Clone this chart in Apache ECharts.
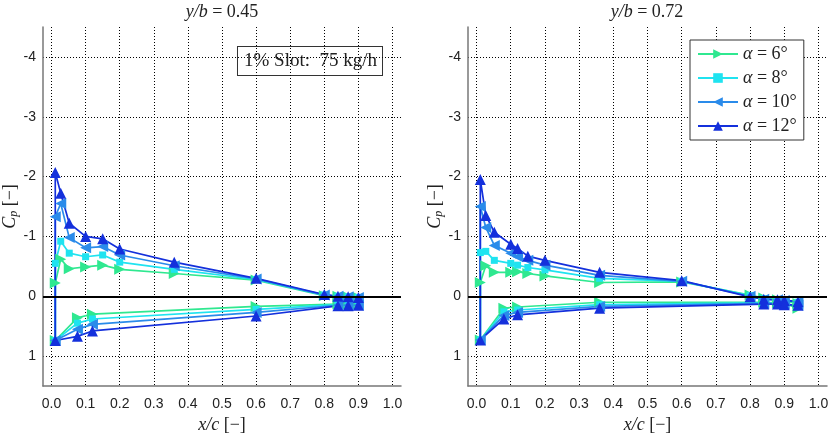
<!DOCTYPE html>
<html>
<head>
<meta charset="utf-8">
<script src="https://cdn.jsdelivr.net/npm/echarts@6/dist/echarts.min.js"></script>
<style>
  html, body { margin: 0; padding: 0; background: #fff; }
  #chart { width: 832px; height: 442px; }
</style>
</head>
<body>
<div id="chart"></div>
<script>
// 数据 (x/c, Cp) — 上表面从前缘到后缘, 下表面从前缘到后缘
const alphaNames = ['α = 6°', 'α = 8°', 'α = 10°', 'α = 12°']
const xTicks = [0, 0.1, 0.2, 0.3, 0.4, 0.5, 0.6, 0.7, 0.8, 0.9, 1.0]
const yTicks = [-4, -3, -2, -1, 0, 1]

// y/b = 0.45
const xUpper45 = [0.011, 0.027, 0.052, 0.1, 0.15, 0.2, 0.36, 0.6, 0.8, 0.84, 0.87, 0.9]
const xLower45 = [0.011, 0.076, 0.12, 0.6, 0.84, 0.87, 0.9]
const upper45_a6 = [-0.22, -0.62, -0.46, -0.49, -0.52, -0.45, -0.38, -0.27, -0.01, 0.0, 0.01, 0.02]
const upper45_a8 = [-0.55, -0.92, -0.72, -0.66, -0.69, -0.57, -0.45, -0.28, -0.02, 0.0, 0.01, 0.02]
const upper45_a10 = [-1.33, -1.55, -0.98, -0.81, -0.83, -0.69, -0.51, -0.29, -0.02, 0.0, 0.01, 0.02]
const upper45_a12 = [-2.07, -1.72, -1.22, -1.0, -0.96, -0.79, -0.57, -0.30, -0.03, 0.0, 0.01, 0.02]
const lower45_a6 = [0.74, 0.36, 0.30, 0.17, 0.13, 0.13, 0.13]
const lower45_a8 = [0.74, 0.45, 0.38, 0.22, 0.14, 0.14, 0.14]
const lower45_a10 = [0.74, 0.55, 0.47, 0.27, 0.15, 0.15, 0.15]
const lower45_a12 = [0.74, 0.67, 0.58, 0.33, 0.16, 0.16, 0.15]

// y/b = 0.72
const xUpper72 = [0.011, 0.027, 0.052, 0.1, 0.12, 0.15, 0.2, 0.36, 0.6, 0.8, 0.84, 0.88, 0.9, 0.94]
const xLower72 = [0.011, 0.08, 0.12, 0.36, 0.84, 0.88, 0.9, 0.94]
const upper72_a6 = [-0.23, -0.51, -0.40, -0.40, -0.41, -0.38, -0.34, -0.23, -0.24, -0.02, 0.03, 0.06, 0.08, 0.12]
const upper72_a8 = [-0.73, -0.75, -0.60, -0.55, -0.52, -0.48, -0.44, -0.30, -0.25, -0.01, 0.04, 0.06, 0.07, 0.10]
const upper72_a10 = [-1.50, -1.15, -0.85, -0.72, -0.66, -0.60, -0.52, -0.35, -0.25, 0.0, 0.05, 0.06, 0.07, 0.09]
const upper72_a12 = [-1.95, -1.35, -1.07, -0.87, -0.80, -0.67, -0.60, -0.40, -0.26, 0.01, 0.05, 0.06, 0.07, 0.09]
const lower72_a6 = [0.73, 0.20, 0.18, 0.10, 0.10, 0.11, 0.12, 0.20]
const lower72_a8 = [0.73, 0.26, 0.23, 0.14, 0.11, 0.12, 0.12, 0.17]
const lower72_a10 = [0.73, 0.32, 0.27, 0.17, 0.12, 0.12, 0.13, 0.15]
const lower72_a12 = [0.73, 0.38, 0.31, 0.20, 0.13, 0.13, 0.14, 0.15]

// 样式
const colors = ['#2FE890', '#1FE3F0', '#2A8BEA', '#1430DC']
const symbols = ['triangle', 'rect', 'triangle', 'triangle']
const rotations = [-90, 0, 90, 0]
const symbolSizes = [11, 7, 11, 11]
const serif = '"Liberation Serif", "DejaVu Serif", serif'
const sans = '"Liberation Sans", Arial, sans-serif'

// 上表面 (后缘→前缘) 接下表面 (前缘→后缘)
const buildLoop = (xu, cu, xl, cl) => {
  const pts = []
  for (let i = xu.length - 1; i >= 0; i--) pts.push([xu[i], cu[i]])
  for (let i = 0; i < xl.length; i++) pts.push([xl[i], cl[i]])
  return pts
}

const loops45 = [
  buildLoop(xUpper45, upper45_a6, xLower45, lower45_a6),
  buildLoop(xUpper45, upper45_a8, xLower45, lower45_a8),
  buildLoop(xUpper45, upper45_a10, xLower45, lower45_a10),
  buildLoop(xUpper45, upper45_a12, xLower45, lower45_a12)
]
const loops72 = [
  buildLoop(xUpper72, upper72_a6, xLower72, lower72_a6),
  buildLoop(xUpper72, upper72_a8, xLower72, lower72_a8),
  buildLoop(xUpper72, upper72_a10, xLower72, lower72_a10),
  buildLoop(xUpper72, upper72_a12, xLower72, lower72_a12)
]

const makeX = (gridIndex) => ({
  type: 'value', gridIndex, min: -0.025, max: 1.025,
  axisLine: { onZero: false, lineStyle: { color: '#777', width: 1.5 } },
  axisTick: { show: false, customValues: xTicks },
  axisLabel: { customValues: xTicks, formatter: v => v.toFixed(1), margin: 11,
    fontFamily: sans, fontSize: 14, color: '#222' },
  splitLine: { show: true, lineStyle: { color: '#000', type: [1, 2], width: 1 } },
  name: '{i|x/c} [−]', nameLocation: 'middle', nameGap: 28,
  nameTextStyle: { fontFamily: serif, fontSize: 18, color: '#222',
    rich: { i: { fontFamily: serif, fontStyle: 'italic', fontSize: 18, color: '#222' } } }
})

const makeY = (gridIndex) => ({
  type: 'value', gridIndex, min: -4.5, max: 1.5, inverse: true,
  axisLine: { show: true, onZero: false, lineStyle: { color: '#777', width: 1.5 } },
  axisTick: { show: false, customValues: yTicks },
  axisLabel: { customValues: yTicks, formatter: v => String(v), margin: 7,
    fontFamily: sans, fontSize: 14, color: '#222' },
  splitLine: { show: true, lineStyle: { color: '#000', type: [1, 2], width: 1 } },
  name: '{i|C}{s|p} [−]', nameLocation: 'middle', nameGap: 21,
  nameTextStyle: { fontFamily: serif, fontSize: 18, color: '#222',
    rich: {
      i: { fontFamily: serif, fontStyle: 'italic', fontSize: 18, color: '#222' },
      s: { fontFamily: serif, fontStyle: 'italic', fontSize: 12, color: '#222', padding: [7, 0, 0, 0] }
    } }
})

const makeSeries = (loops, idx) => loops.map((pts, k) => ({
  name: alphaNames[k],
  type: 'line',
  xAxisIndex: idx,
  yAxisIndex: idx,
  data: pts,
  symbol: symbols[k],
  symbolRotate: rotations[k],
  symbolSize: symbolSizes[k],
  showAllSymbol: true,
  lineStyle: { color: colors[k], width: 1.7 },
  itemStyle: { color: colors[k] },
  emphasis: { disabled: true },
  animation: false,
  markLine: k === 0 ? {
    silent: true, symbol: 'none', animation: false,
    label: { show: false },
    lineStyle: { color: '#000', width: 2.2, type: 'solid' },
    data: [{ yAxis: 0 }]
  } : undefined
}))

const chart = echarts.init(document.getElementById('chart'))

const titleRich = { i: { fontFamily: serif, fontStyle: 'italic', fontSize: 18, color: '#222' } }

chart.setOption({
  animation: false,
  grid: [
    { left: 43, top: 27, width: 358, height: 359 },
    { left: 468, top: 27, width: 359, height: 359 }
  ],
  xAxis: [makeX(0), makeX(1)],
  yAxis: [makeY(0), makeY(1)],
  legend: {
    orient: 'vertical', left: 690, top: 40,
    itemWidth: 40, itemHeight: 12, itemGap: 6,
    backgroundColor: '#fff',
    borderColor: '#333', borderWidth: 1, borderRadius: 0,
    padding: [5, 7, 5, 7],
    symbolRotate: 'inherit',
    data: alphaNames,
    formatter: n => n.replace('α', '{a|α}'),
    textStyle: { fontFamily: serif, fontSize: 18, color: '#222', lineHeight: 18,
      rich: { a: { fontFamily: serif, fontStyle: 'italic', fontSize: 18, color: '#222' } } }
  },
  graphic: [
    { type: 'text', x: 222, y: 12, style: { text: '{i|y/b} = 0.45', textAlign: 'center',
      textVerticalAlign: 'middle', font: '18px ' + serif, fill: '#222', rich: titleRich } },
    { type: 'text', x: 647, y: 12, style: { text: '{i|y/b} = 0.72', textAlign: 'center',
      textVerticalAlign: 'middle', font: '18px ' + serif, fill: '#222', rich: titleRich } },
    { type: 'text', x: 310, y: 61, style: { text: '1% Slot:  75 kg/h', textAlign: 'center',
      textVerticalAlign: 'middle', font: '19px ' + serif, fill: '#222',
      backgroundColor: '#fff', borderColor: '#333', borderWidth: 1, padding: [5, 5, 4, 6] } }
  ],
  series: [...makeSeries(loops45, 0), ...makeSeries(loops72, 1)]
})
</script>
</body>
</html>
